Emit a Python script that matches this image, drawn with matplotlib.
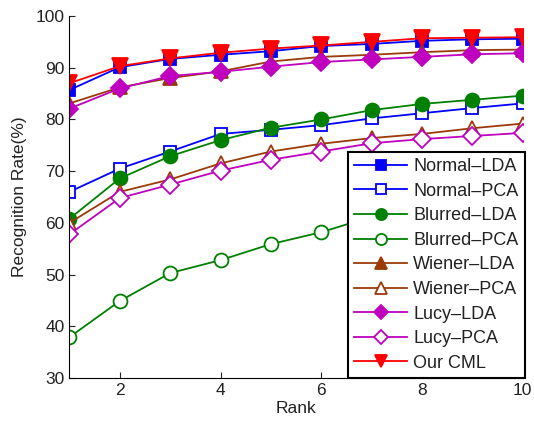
import matplotlib
matplotlib.use("Agg")
import matplotlib.pyplot as plt

rank = [1, 2, 3, 4, 5, 6, 7, 8, 9, 10]
normal_lda = [85.7, 90.1, 91.7, 92.5, 93.2, 94.2, 94.6, 95.2, 95.5, 95.6]
normal_pca = [66.0, 70.5, 73.8, 77.2, 78.0, 78.9, 80.2, 81.2, 82.2, 83.1]
blurred_lda = [60.8, 68.6, 72.9, 76.0, 78.4, 80.0, 81.8, 83.0, 83.8, 84.6]
blurred_pca = [37.9, 44.9, 50.3, 52.8, 55.9, 58.2, 61.2, 62.8, 64.0, 65.0]
wiener_lda = [83.1, 86.2, 88.0, 89.3, 91.2, 92.1, 92.5, 93.0, 93.4, 93.5]
wiener_pca = [60.0, 66.0, 68.4, 71.5, 73.8, 75.3, 76.4, 77.2, 78.3, 79.2]
lucy_lda = [82.1, 86.0, 88.4, 89.2, 90.2, 91.1, 91.6, 92.1, 92.6, 92.8]
lucy_pca = [57.8, 64.8, 67.4, 70.1, 72.2, 73.8, 75.4, 76.2, 76.8, 77.4]
our_cml = [87.0, 90.3, 91.8, 92.9, 93.7, 94.3, 95.0, 95.7, 95.8, 95.9]

labels = ["Normal–LDA", "Normal–PCA", "Blurred–LDA", "Blurred–PCA",
          "Wiener–LDA", "Wiener–PCA", "Lucy–LDA", "Lucy–PCA", "Our CML"]
xticks = [2, 4, 6, 8, 10]
yticks = [30, 40, 50, 60, 70, 80, 90, 100]

plt.rcParams['font.family'] = ['Liberation Sans', 'DejaVu Sans']
plt.rcParams['font.size'] = 12.5

blue = '#0000ff'
green = '#008000'
brown = '#9a3a08'
mag = '#bf00bf'
red = '#ff0000'

series = [
    (normal_lda, blue, 's', True, 9),
    (normal_pca, blue, 's', False, 9),
    (blurred_lda, green, 'o', True, 10),
    (blurred_pca, green, 'o', False, 10),
    (wiener_lda, brown, '^', True, 10),
    (wiener_pca, brown, '^', False, 10),
    (lucy_lda, mag, 'D', True, 9),
    (lucy_pca, mag, 'D', False, 9),
    (our_cml, red, 'v', True, 11),
]

fig = plt.figure(figsize=(5.34, 4.21), dpi=100)
ax = fig.add_axes([0.130, 0.102, 0.849, 0.860])

for (vals, col, mk, filled, ms), lab in zip(series, labels):
    ax.plot(rank, vals, color=col, marker=mk, markersize=ms, linewidth=1.3,
            markerfacecolor=col if filled else 'white', markeredgecolor=col,
            markeredgewidth=1.3, label=lab)

ax.set_xlim(1, 10)
ax.set_ylim(30, 100)
ax.set_xticks(xticks)
ax.set_yticks(yticks)
ax.spines['top'].set_visible(False)
ax.spines['right'].set_visible(False)
ax.tick_params(direction='in', length=4, colors='#222222', labelsize=12.5)
ax.set_xlabel("Rank", fontsize=12.5, color='#222222', labelpad=2)
ax.set_ylabel("Recognition Rate(%)", fontsize=12.5, color='#222222', labelpad=6)

leg = ax.legend(loc='lower right', bbox_to_anchor=(1.004, 0.0), borderaxespad=0,
                fontsize=13, frameon=True, fancybox=False, framealpha=1,
                edgecolor='black', handlelength=2.9, labelspacing=0.42,
                markerscale=0.8, handletextpad=0.35, borderpad=0.35)
leg.get_frame().set_linewidth(1.5)
for t in leg.get_texts():
    t.set_color('#222222')

fig.savefig("out.png", dpi=100)
